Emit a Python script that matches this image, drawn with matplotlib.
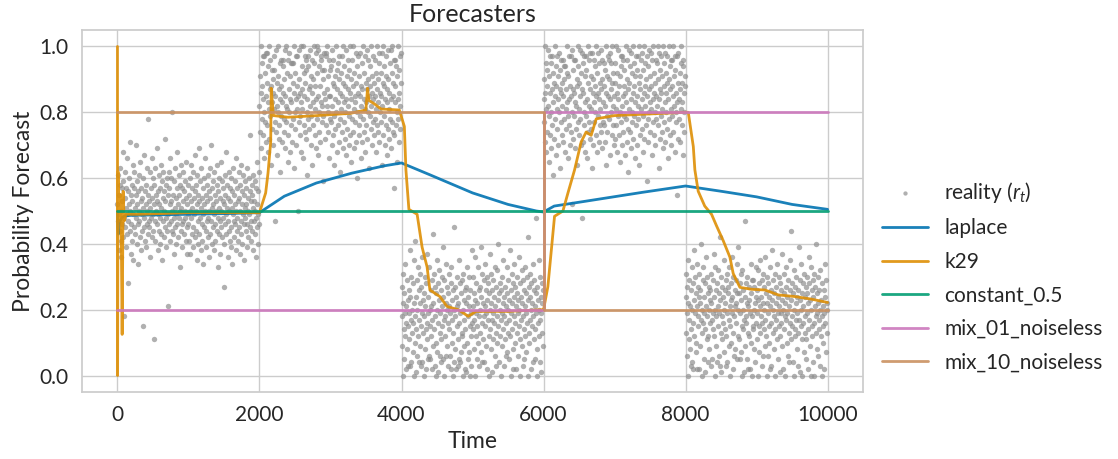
"""Forecasters: reality samples r_t and several probability forecasters over time."""
import numpy as np
import matplotlib
matplotlib.use("Agg")
import matplotlib.pyplot as plt
import seaborn as sns

sns.set_theme(style="whitegrid")
plt.rcParams['font.family'] = ['Lato', 'DejaVu Sans']
plt.rcParams['mathtext.fontset'] = 'custom'
plt.rcParams['mathtext.it'] = 'Lato:italic'
plt.rcParams['mathtext.rm'] = 'Lato'

# reality samples (percent), one block per regime
seg_bounds = [0, 2000, 4000, 6000, 8000, 10000]
reality_pct = [
    # 0 - 2000, around 0.5
    """52 47 61 38 55 49 44 58 63 41 50 36 57 46 53 68 42 59 48 18
    54 62 45 51 39 57 66 43 49 56 47 28 60 52 44 71 50 37 55 46
    58 41 53 64 35 49 57 45 62 51 43 55 48 70 40 52 59 46 34 56
    61 47 50 42 65 53 38 57 49 44 54 15 60 51 45 67 48 41 56 52
    39 58 46 63 50 43 55 78 47 53 45 62 36 51 57 48 66 42 54 49
    60 44 52 11 58 47 41 63 50 55 46 69 53 38 56 49 61 44 52 40
    57 48 64 43 51 35 59 47 54 62 50 42 56 72 45 53 39 58 48 60
    44 55 49 21 62 46 57 52 41 66 53 47 60 44 50 80 43 55 48 37
    59 51 45 63 40 54 49 57 46 68 42 52 61 48 55 33 58 50 44 64
    51 46 57 39 53 62 47 56 43 50 48 59 41 54 65 45 52 37 58 49
    46 55 41 60 50 37 53 64 48 43 57 51 39 62 45 54 49 67 42 56
    50 44 58 35 52 61 47 40 55 69 43 53 48 59 38 51 63 46 54 41
    57 49 34 52 60 45 50 66 44 55 39 58 47 53 42 61 48 56 36 50
    63 43 54 47 70 51 40 57 45 52 59 38 49 62 46 55 41 53 50 64
    44 58 48 33 56 51 43 60 47 54 37 65 50 45 59 42 53 48 57 27
    52 40 61 46 55 49 68 43 51 58 36 54 47 62 44 50 57 41 53 39
    60 45 51 56 34 49 63 47 42 55 52 46 59 38 66 50 44 57 48 53
    41 62 45 54 50 37 58 47 64 43 52 56 40 49 61 46 55 35 51 59
    48 44 57 52 39 63 46 50 54 42 60 49 45 56 73 41 53 47 58 44
    55 38 51 61 47 53 43 59 50 36 57 48 65 45 52 40 56 49 62 46""",
    # 2000 - 4000, around 0.8
    """82 91 74 100 86 69 78 95 88 97 73 84 97 66 80 92 77 98 85 71
    89 98 76 83 94 68 81 100 72 87 79 96 64 88 93 75 83 90 70 86
    97 81 93 77 47 85 99 74 89 82 67 91 80 100 76 87 72 95 84 62
    88 79 96 83 71 94 86 96 78 90 74 85 99 69 82 100 77 92 81 65
    96 73 87 98 80 68 91 84 95 76 83 95 71 89 78 95 63 86 100 80
    92 75 84 97 70 88 81 97 50 85 77 99 90 73 86 79 100 83 68 94
    81 87 66 100 92 76 85 97 74 89 96 72 93 80 84 61 97 78 94 87
    75 88 99 82 70 91 79 86 64 96 90 83 76 95 100 81 73 88 98 69
    84 100 78 92 67 85 99 80 94 74 88 71 97 83 96 77 82 93 59 90
    79 93 86 98 72 84 98 76 97 82 100 87 74 91 80 66 96 85 78 93
    85 77 94 70 99 82 89 73 96 79 88 64 91 84 75 100 80 93 68 87
    76 95 83 71 90 97 78 86 62 92 81 74 97 85 69 89 100 77 83 94
    72 88 80 99 67 84 91 75 96 82 87 70 93 79 86 100 73 90 65 84
    96 78 88 74 100 81 69 92 85 77 83 98 71 89 80 60 94 86 97 76
    91 73 85 98 79 88 66 82 95 71 87 100 78 84 92 74 81 97 68 89
    83 76 99 87 72 90 80 96 85 63 94 79 88 75 100 82 70 91 86 77
    97 84 73 89 96 78 85 68 92 81 76 100 87 74 90 83 95 71 98 86
    80 92 77 85 64 98 82 89 73 100 88 79 94 70 84 91 76 97 83 67
    87 75 90 99 81 86 72 95 78 99 69 84 100 77 92 85 74 89 57 96
    73 96 83 88 76 94 80 65 91 84 100 78 86 71 93 82 97 75 89 98""",
    # 4000 - 6000, around 0.2
    """18 27 9 0 22 31 14 5 25 19 12 34 2 21 16 8 29 23 3 15
    26 11 19 38 3 24 17 4 30 13 20 7 28 16 0 35 22 10 18 41
    1 24 14 29 6 20 33 12 4 26 17 9 31 22 15 3 27 19 4 36
    23 13 0 25 18 30 8 21 2 14 28 16 37 11 5 24 19 33 6 20
    15 5 26 21 12 29 2 17 43 9 22 31 14 3 27 18 10 25 0 35
    7 20 28 16 1 23 32 13 19 6 26 11 4 30 21 15 39 5 24 17
    0 29 18 12 34 6 22 27 9 20 16 25 3 21 14 31 6 19 2 28
    33 10 23 17 0 26 13 45 20 4 18 27 8 2 24 15 30 21 11 3
    22 5 35 16 19 28 4 7 25 13 29 12 20 0 31 17 23 9 2 26
    14 1 27 22 10 33 5 18 24 7 21 30 0 15 26 12 19 3 38 16
    21 14 30 8 25 17 0 23 36 12 19 28 5 22 15 33 10 26 18 3
    27 13 20 39 7 24 16 31 4 22 11 29 18 4 34 21 15 26 9 19
    30 2 23 17 28 12 0 25 20 37 14 22 8 31 17 26 1 19 29 11
    24 16 33 6 21 13 27 3 18 32 10 23 40 15 25 4 20 28 12 17
    0 26 19 9 30 22 14 35 3 24 18 27 11 6 21 16 33 7 25 13
    29 20 5 23 17 38 12 26 0 19 31 14 22 8 28 2 24 18 34 10
    16 27 21 2 25 13 30 19 6 23 36 15 20 11 0 28 17 24 9 32
    22 3 18 29 14 26 5 21 33 12 19 25 7 30 16 0 23 42 13 27
    10 24 31 17 2 20 28 15 22 4 34 18 26 11 29 5 21 14 48 19
    25 8 0 27 16 23 35 12 20 4 30 17 24 1 19 28 13 22 9 26""",
    # 6000 - 8000, around 0.8
    """77 90 84 100 71 86 95 68 81 93 88 74 99 82 65 91 79 97 86 73
    95 80 69 87 97 76 92 83 61 89 72 100 85 78 94 67 88 81 97 75
    84 91 70 98 80 87 63 93 77 86 96 73 89 82 96 71 85 78 94 90
    68 94 81 87 75 100 83 92 66 79 91 76 97 84 70 88 97 74 85 52
    80 99 87 72 93 79 86 96 69 83 96 75 82 90 64 88 100 77 94 81
    73 89 99 78 85 92 70 87 48 98 86 71 95 80 97 76 83 91 68 97
    79 93 84 66 89 100 74 82 96 77 98 87 72 91 81 75 98 63 86 90
    70 83 96 77 94 88 80 73 100 85 92 68 86 98 79 84 95 71 89 76
    81 99 74 87 96 69 90 83 77 95 88 76 93 82 71 86 100 64 91 79
    74 97 85 90 78 96 67 84 98 87 95 80 73 100 89 82 76 92 70 85
    89 72 95 81 100 76 86 68 92 79 84 99 73 88 65 91 80 97 77 94
    82 70 97 85 74 96 88 79 93 67 86 78 100 83 71 90 96 75 87 62
    99 81 89 74 94 84 69 98 77 92 80 100 86 72 88 95 79 66 91 83
    76 97 85 93 70 82 97 78 89 64 100 87 73 91 81 96 75 84 98 68
    93 79 86 100 72 88 82 95 76 90 59 85 97 78 94 71 87 80 99 83
    74 91 98 81 88 67 96 84 77 100 86 73 92 80 89 70 96 85 78 95
    82 100 76 90 84 63 98 87 72 93 97 79 86 74 91 81 100 69 88 77
    95 83 71 98 86 80 92 75 89 97 66 84 100 78 90 73 87 94 96 81
    70 88 96 79 100 85 74 91 82 68 93 97 77 86 80 55 97 83 89 72
    98 84 78 92 87 71 95 81 100 76 89 83 67 94 96 80 86 74 91 88""",
    # 8000 - 10000, around 0.2
    """24 13 31 6 19 27 0 22 35 11 17 29 8 21 3 26 14 33 20 4
    28 16 2 23 38 12 19 30 7 25 10 21 34 2 18 27 15 24 2 31
    22 9 26 17 40 0 20 13 29 16 33 19 5 24 14 28 1 21 36 11
    18 30 12 4 25 20 8 27 16 23 26 3 22 31 17 5 29 14 19 37
    12 24 0 20 33 9 26 18 4 28 21 15 32 25 6 19 42 3 23 13
    30 1 18 27 11 24 16 35 20 7 14 26 22 3 29 12 31 19 4 25
    27 17 9 33 21 0 15 28 23 10 19 36 24 13 2 30 18 6 26 21
    8 22 29 16 25 5 34 12 20 39 25 11 5 28 19 23 7 31 15 0
    32 20 14 26 1 17 24 9 47 18 16 28 22 5 30 13 2 21 27 12
    23 2 19 34 10 25 18 29 0 15 29 14 27 20 8 4 22 16 33 24
    19 26 11 32 0 23 15 28 7 21 35 13 24 18 3 29 16 22 6 31
    14 27 20 9 36 17 25 12 0 22 30 6 19 28 15 24 10 33 21 2
    26 16 3 23 38 13 20 29 8 18 25 14 31 0 22 17 27 11 34 19
    5 24 15 30 21 1 28 12 19 26 16 37 9 23 2 20 31 14 25 18
    22 0 33 17 27 10 24 19 6 29 13 21 4 35 16 26 11 23 44 15
    28 18 4 25 20 32 0 14 27 12 22 17 30 8 24 19 3 26 13 39
    17 23 29 1 20 15 34 11 25 0 21 28 16 7 31 18 24 13 5 27
    11 30 19 25 14 2 22 36 17 28 9 23 20 0 33 15 26 12 29 4
    24 16 0 31 21 27 13 18 40 8 25 19 6 22 30 14 26 17 3 20
    32 12 23 0 18 28 15 21 10 26 2 19 34 16 24 7 29 20 13 22""",
]

# laplace forecaster
lap_t = [0, 5, 15, 25, 40, 60, 100, 200, 500, 1000, 1500, 2000, 2350, 2800,
         3300, 3750, 4000, 4400, 5000, 5500, 5900, 6000, 6150, 6600, 7400,
         8000, 8500, 9000, 9500, 10000]
lap_v = [0.5, 0.45, 0.43, 0.46, 0.47, 0.48, 0.485, 0.487, 0.488, 0.49, 0.492,
         0.495, 0.545, 0.585, 0.615, 0.637, 0.646, 0.61, 0.555, 0.52, 0.50,
         0.497, 0.515, 0.53, 0.557, 0.576, 0.56, 0.543, 0.52, 0.505]

# k29 forecaster
k29_t = [0, 2, 8, 20, 40, 55, 66, 80, 95, 120, 300, 1000, 1600, 2000, 2087,
         2120, 2158, 2165, 2196, 2400, 2816, 3287, 3498, 3522, 3540, 3616,
         3710, 3969, 4040, 4062, 4104, 4220, 4290, 4360, 4400, 4540, 4640,
         4800, 4940, 5050, 5500, 5990, 6000, 6061, 6155, 6273, 6344, 6437,
         6530, 6600, 6671, 6742, 7000, 7500, 8000, 8038, 8109, 8131, 8178,
         8270, 8366, 8436, 8530, 8624, 8671, 8765, 8930, 9118, 9306, 9541,
         9777, 10000]
k29_v = [1.0, 0.0, 0.62, 0.47, 0.55, 0.40, 0.125, 0.56, 0.47, 0.49, 0.49,
         0.495, 0.495, 0.495, 0.555, 0.615, 0.71, 0.873, 0.79, 0.785, 0.79,
         0.797, 0.807, 0.873, 0.836, 0.826, 0.81, 0.807, 0.757, 0.625, 0.505,
         0.49, 0.39, 0.33, 0.26, 0.24, 0.21, 0.2, 0.18, 0.195, 0.195, 0.2, 0.2,
         0.27, 0.484, 0.5, 0.555, 0.625, 0.71, 0.74, 0.73, 0.78, 0.79, 0.795,
         0.8, 0.8, 0.696, 0.625, 0.56, 0.515, 0.49, 0.455, 0.41, 0.36, 0.31,
         0.268, 0.262, 0.26, 0.245, 0.24, 0.232, 0.222]

# constant and switching mixtures (step at 6000)
const_t = [0, 10000]
const_v = [0.5, 0.5]
mix_t = [0, 6000, 10000]
mix01_v = [0.2, 0.8, 0.8]
mix10_v = [0.8, 0.2, 0.2]

pal = sns.color_palette("colorblind")

fig = plt.figure(figsize=(11.18, 4.59), dpi=100)
ax = fig.add_axes([0.0733, 0.146, 0.6987, 0.7886])

# reality cloud
for i, block in enumerate(reality_pct):
    vals = np.array([int(v) for v in block.split()]) / 100.0
    ts = np.linspace(seg_bounds[i], seg_bounds[i + 1], len(vals), endpoint=False)
    ax.scatter(ts, vals, s=15, color='#8f8f8f', alpha=0.7, linewidths=0,
               label=r'reality ($r_t$)' if i == 0 else None, zorder=1)

lw = 2
ax.plot(lap_t, lap_v, color=pal[0], lw=lw, alpha=0.9, label='laplace', zorder=2)
ax.plot(k29_t, k29_v, color=pal[1], lw=lw, alpha=0.9, label='k29', zorder=2)
ax.plot(const_t, const_v, color=pal[2], lw=lw, alpha=0.9, label='constant_0.5', zorder=2)
ax.plot(mix_t, mix01_v, color=pal[4], lw=lw, alpha=0.9, drawstyle='steps-post',
        label='mix_01_noiseless', zorder=2)
ax.plot(mix_t, mix10_v, color=pal[5], lw=lw, alpha=0.9, drawstyle='steps-post',
        label='mix_10_noiseless', zorder=2)

ax.set_xticks([0, 2000, 4000, 6000, 8000, 10000])
ax.set_yticks([0.0, 0.2, 0.4, 0.6, 0.8, 1.0])
ax.tick_params(labelsize=15)
ax.set_xlabel('Time', fontsize=16.5)
ax.set_ylabel('Probability Forecast', fontsize=16.5)
ax.set_title('Forecasters', fontsize=18)

ax.legend(loc='center left', bbox_to_anchor=(1.0, 0.32), frameon=False,
          fontsize=15, handlelength=2.2, labelspacing=0.65, markerscale=0.8)

fig.savefig('out.png', dpi=100)
